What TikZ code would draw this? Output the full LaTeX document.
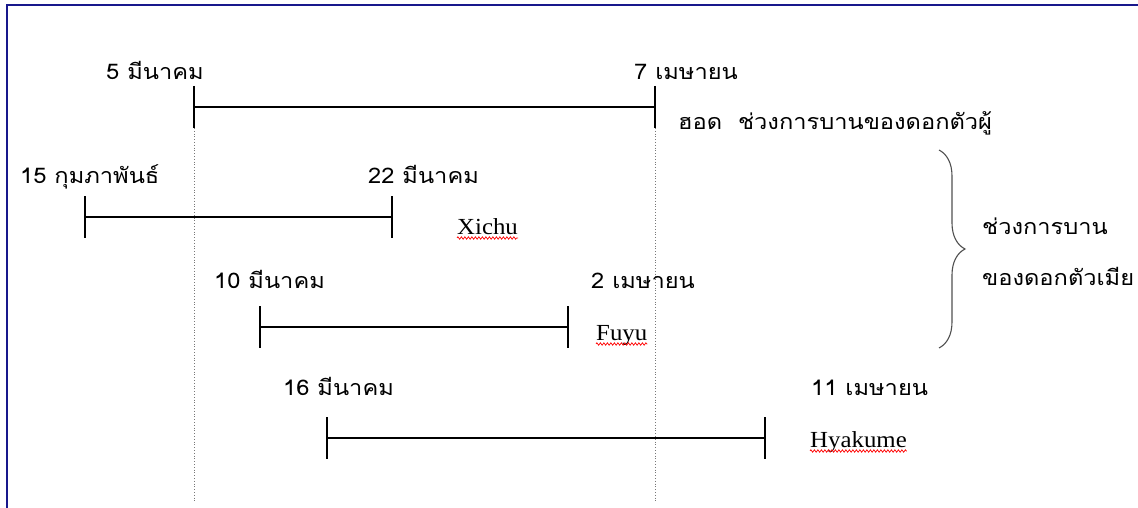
\documentclass[tikz,border=0pt]{standalone}
\usepackage{fontspec}
\newfontfamily\thaifont[Script=Thai,FakeStretch=1.1]{Loma}
\newfontfamily\latinserif[FakeStretch=1.08]{Liberation Serif}
\usetikzlibrary{decorations.pathreplacing,decorations.pathmorphing}
\definecolor{framenavy}{RGB}{24,24,140}
\definecolor{dotgray}{RGB}{120,120,120}
\definecolor{bracegray}{RGB}{80,80,80}
\begin{document}
\begin{tikzpicture}[x=1pt,y=-1pt,
  th/.style={font=\thaifont\fontsize{21.5}{24}\selectfont, anchor=base west, inner sep=0pt},
  lat/.style={font=\latinserif\fontsize{23}{26}\selectfont, anchor=base west, inner sep=0pt},
  bar/.style={line width=1.4pt, black},
  guide/.style={dotgray, dotted, line width=0.8pt},
  squiggle/.style={red, line width=0.7pt, decorate, decoration={zigzag, amplitude=1.2pt, segment length=3.5pt}},
  bracestyle/.style={bracegray, line width=1.1pt, decorate, decoration={brace, amplitude=26pt}}]

\useasboundingbox (0,0) rectangle (1138,508);
\fill[white] (0,0) rectangle (1138,508);
\draw[framenavy, line width=2pt] (7,508) -- (7,5) -- (1138,5);

% guide lines
\coordinate (g1t) at (194,128); \coordinate (g1b) at (194,501);
\coordinate (g2t) at (655,128); \coordinate (g2b) at (655,501);
\draw[guide] (g1t) -- (g1b);
\draw[guide] (g2t) -- (g2b);

% bar 1 (male)
\coordinate (b1s) at (194,107); \coordinate (b1e) at (655,107);
\draw[bar] (b1s) -- (b1e);
\draw[bar] ([yshift=21pt]b1s) -- ([yshift=-21pt]b1s);
\draw[bar] ([yshift=21pt]b1e) -- ([yshift=-21pt]b1e);
\node[th] (l1s) at (106,80) {5 มีนาคม};
\node[th] (l1e) at (634,80) {7 เมษายน};
\node[th] (l1n) at (678,130) {ฮอด\ \ ช่วงการบานของดอกตัวผู้};

% bar 2 Xichu
\coordinate (b2s) at (85,217); \coordinate (b2e) at (392,217);
\draw[bar] (b2s) -- (b2e);
\draw[bar] ([yshift=21pt]b2s) -- ([yshift=-21pt]b2s);
\draw[bar] ([yshift=21pt]b2e) -- ([yshift=-21pt]b2e);
\node[th] (l2s) at (20,183) {15 กุมภาพันธ์};
\node[th] (l2e) at (368,183) {22 มีนาคม};
\node[lat] (n2) at (457,234) {Xichu};
\draw[squiggle] ([yshift=-4pt]n2.base west) -- ([yshift=-4pt]n2.base east);

% bar 3 Fuyu
\coordinate (b3s) at (260,327); \coordinate (b3e) at (568,327);
\draw[bar] (b3s) -- (b3e);
\draw[bar] ([yshift=21pt]b3s) -- ([yshift=-21pt]b3s);
\draw[bar] ([yshift=21pt]b3e) -- ([yshift=-21pt]b3e);
\node[th] (l3s) at (214,288) {10 มีนาคม};
\node[th] (l3e) at (591,288) {2 เมษายน};
\node[lat] (n3) at (596,340) {Fuyu};
\draw[squiggle] ([yshift=-4pt]n3.base west) -- ([yshift=-4pt]n3.base east);

% bar 4 Hyakume
\coordinate (b4s) at (327,438); \coordinate (b4e) at (765,438);
\draw[bar] (b4s) -- (b4e);
\draw[bar] ([yshift=21pt]b4s) -- ([yshift=-21pt]b4s);
\draw[bar] ([yshift=21pt]b4e) -- ([yshift=-21pt]b4e);
\node[th] (l4s) at (283,395) {16 มีนาคม};
\node[th] (l4e) at (811,395) {11 เมษายน};
\node[lat] (n4) at (810,447) {Hyakume};
\draw[squiggle] ([yshift=-4pt]n4.base west) -- ([yshift=-4pt]n4.base east);

% brace for female
\coordinate (brt) at (939,150); \coordinate (brb) at (939,348);
\draw[bracestyle] (brt) -- (brb);
\node[th] (f1) at (982,234) {ช่วงการบาน};
\node[th] (f2) at (982,285) {ของดอกตัวเมีย};
\end{tikzpicture}
\end{document}
